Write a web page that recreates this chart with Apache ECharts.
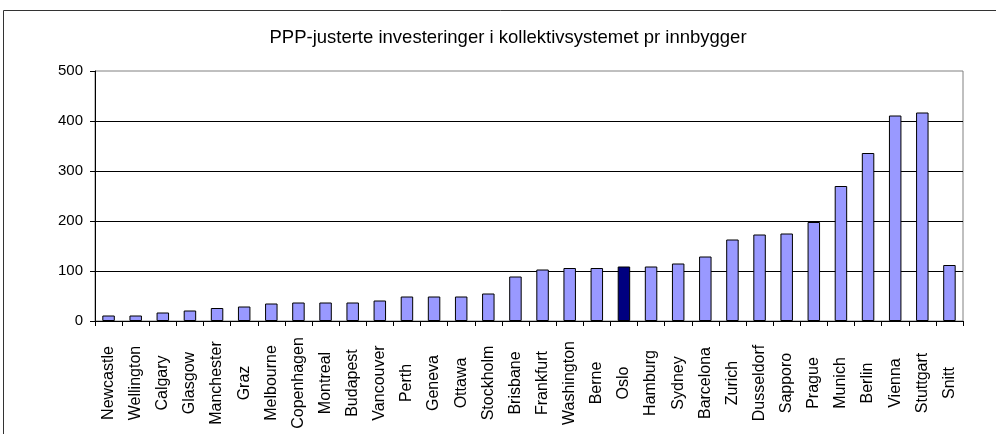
<!DOCTYPE html>
<html>
<head>
<meta charset="utf-8">
<script src="https://cdn.jsdelivr.net/npm/echarts@6/dist/echarts.min.js"></script>
<style>
  html, body { margin: 0; padding: 0; background: #fff; }
  #chart { width: 996px; height: 434px; }
</style>
</head>
<body>
<div id="chart"></div>
<script>
// byer og verdier lest av bildet
var cities = ['Newcastle', 'Wellington', 'Calgary', 'Glasgow', 'Manchester', 'Graz', 'Melbourne',
    'Copenhagen', 'Montreal', 'Budapest', 'Vancouver', 'Perth', 'Geneva', 'Ottawa', 'Stockholm',
    'Brisbane', 'Frankfurt', 'Washington', 'Berne', 'Oslo', 'Hamburg', 'Sydney', 'Barcelona',
    'Zurich', 'Dusseldorf', 'Sapporo', 'Prague', 'Munich', 'Berlin', 'Vienna', 'Stuttgart', 'Snitt'];
var values = [11, 11, 17, 21, 26, 29, 35, 37, 37, 37, 41, 49, 49, 49, 55,
    89, 103, 106, 106, 109, 109, 115, 129, 163, 173, 175, 198, 270, 336, 411, 417, 112];
var yTicks = [0, 100, 200, 300, 400, 500];
var highlight = 'Oslo';

var barColor = '#9999ff',
    highlightColor = '#000080',
    fontFamily = '"Liberation Sans", Arial, sans-serif';

var chart = echarts.init(document.getElementById('chart'));

var option = {
    backgroundColor: '#ffffff',
    animation: false,
    title: {
        text: 'PPP-justerte investeringer i kollektivsystemet pr innbygger',
        left: 503,
        textAlign: 'center',
        top: 23,
        textStyle: { fontFamily: fontFamily, fontSize: 18.5, fontWeight: 'normal', color: '#000' }
    },
    graphic: [{
        type: 'rect',
        shape: { x: 3.5, y: 10.5, width: 1100, height: 600 },
        style: { fill: null, stroke: '#333', lineWidth: 1 },
        silent: true
    }],
    grid: {
        left: 95, right: 33, top: 71, bottom: 113,
        show: true, borderColor: '#808080', borderWidth: 1
    },
    xAxis: {
        type: 'category',
        data: cities,
        boundaryGap: true,
        axisLine: { lineStyle: { color: '#000', width: 1 } },
        axisTick: { show: true, length: 5, inside: false, alignWithLabel: false, lineStyle: { color: '#000' } },
        axisLabel: {
            interval: 0,
            rotate: 90,
            align: 'center',
            verticalAlign: 'middle',
            margin: 62,
            fontFamily: fontFamily,
            fontSize: 16,
            color: '#000'
        }
    },
    yAxis: {
        type: 'value',
        min: yTicks[0],
        max: yTicks[yTicks.length - 1],
        interval: 100,
        axisLine: { show: true, lineStyle: { color: '#000', width: 1 } },
        axisTick: { show: true, length: 5, lineStyle: { color: '#000' } },
        axisLabel: { margin: 12, fontFamily: fontFamily, fontSize: 15, color: '#000' },
        splitLine: { show: true, showMaxLine: false, lineStyle: { color: '#000', width: 1 } }
    },
    series: [{
        type: 'bar',
        barWidth: '46%',
        data: values.map(function (v, i) {
            return {
                value: v,
                itemStyle: { color: cities[i] === highlight ? highlightColor : barColor }
            };
        }),
        itemStyle: { borderColor: '#000', borderWidth: 1 }
    }]
};

chart.setOption(option);
</script>
</body>
</html>
